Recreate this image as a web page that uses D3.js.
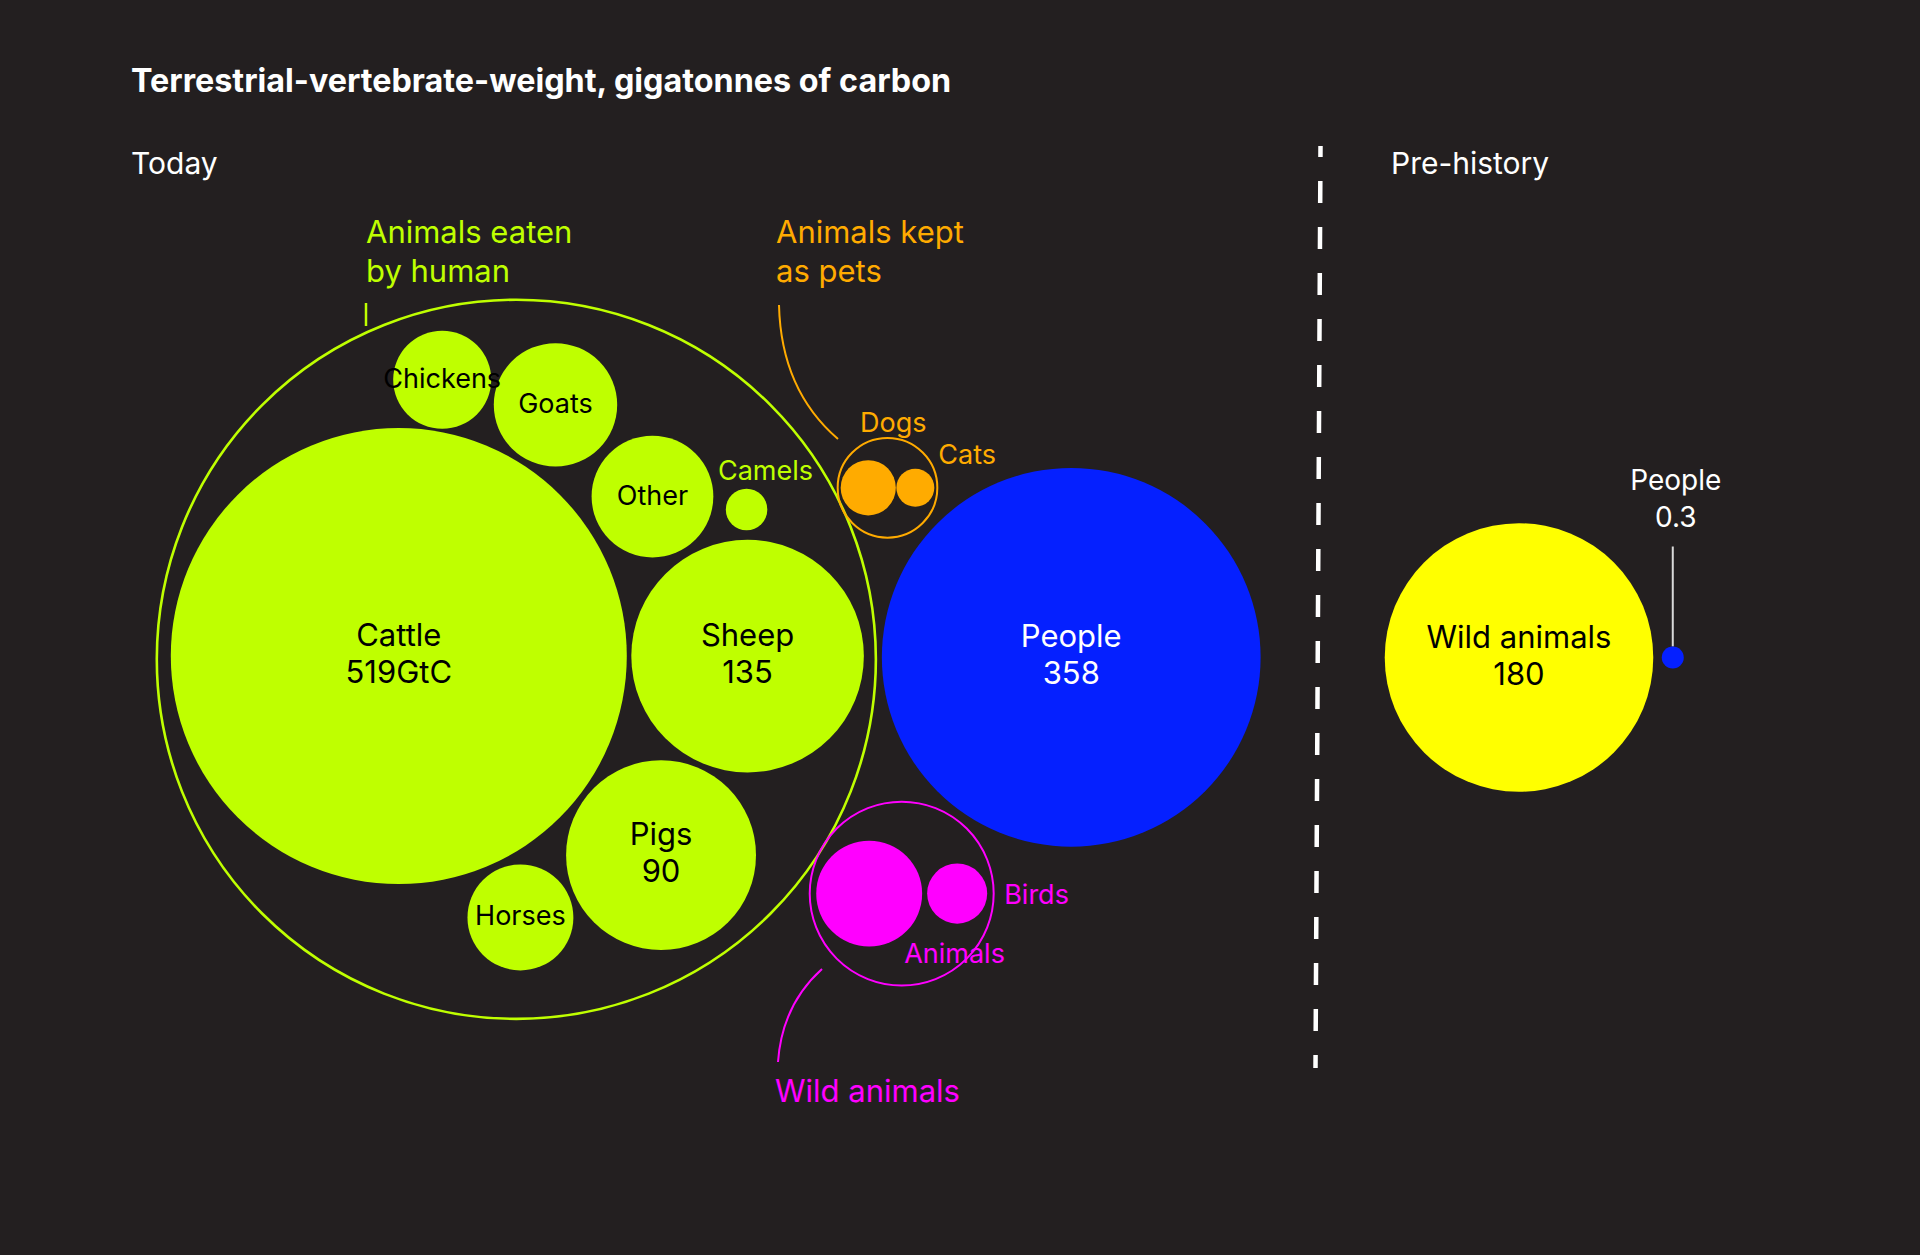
<!DOCTYPE html>
<html><head><meta charset="utf-8">
<script src="https://cdn.jsdelivr.net/npm/d3@7"></script>
<style>
html,body{margin:0;padding:0;background:#231f20;}
svg{display:block;}
text{font-family:Inter,"Liberation Sans",Arial,sans-serif;}
</style></head><body>
<svg id="chart" width="1920" height="1255"></svg>
<script>
// ---------------- data ----------------
const chartTitle = "Terrestrial-vertebrate-weight, gigatonnes of carbon";
const periodLabels = ["Today", "Pre-history"];
const groupLabels = [["Animals eaten", "by human"], ["Animals kept", "as pets"], ["Wild animals"]];

const livestockNames  = ["Cattle", "Sheep", "Pigs", "Horses", "Other", "Goats", "Chickens", "Camels"];
const livestockValues = [519, 135, 90, 28, 37, 38, 24, 4.3];
const livestockValueLabels = ["519GtC", "135", "90", null, null, null, null, null];

const petNames  = ["Dogs", "Cats"];
const petValues = [7.6, 3.6];

const wildNames  = ["Animals", "Birds"];
const wildValues = [28, 9];

const peopleTodayName  = "People";
const peopleTodayValue = 358;
const peopleTodayLabel = "358";

const prehistoryNames  = ["Wild animals", "People"];
const prehistoryValues = [180, 0.3];
const prehistoryLabels = ["180", "0.3"];

// ---------------- styles / layout ----------------
const C = {bg:"#231f20", lime:"#bfff00", orange:"#ffab00", blue:"#0520ff", magenta:"#ff00ff", yellow:"#ffff00", white:"#ffffff"};
const FONT = 'Inter,"Liberation Sans",Arial,sans-serif';

const svg = d3.select("#chart");
svg.append("rect").attr("width",1920).attr("height",1255).attr("fill",C.bg);

const rScale = d3.scaleSqrt().domain([0, 519]).range([0, 228]);
const MIN_R = 11;
const rad = v => Math.max(rScale(v), MIN_R);

function tangent(a, rb, angleDeg, gap) {
  const d = a.r + rb + gap, t = angleDeg * Math.PI / 180;
  return {x: a.x + d * Math.cos(t), y: a.y + d * Math.sin(t)};
}

// placement rules for livestock (anchor circle, angle, gap)
const livestockPlacement = {
  Cattle:   {root: [398.8, 656.1]},
  Sheep:    {anchor: "Cattle", angle: 0,      gap: 4.5},
  Pigs:     {anchor: "Sheep",  angle: 113.5,  gap: 5.8},
  Horses:   {anchor: "Pigs",   angle: 156.1,  gap: 5.9},
  Other:    {anchor: "Sheep",  angle: -120.8, gap: 8.6},
  Goats:    {anchor: "Other",  angle: -136.6, gap: 10.9},
  Chickens: {anchor: "Goats",  angle: -167.5, gap: 5.3},
  Camels:   {anchor: "Sheep",  angle: -90.4,  gap: 9.6}
};

const live = {};
livestockNames.forEach((n, i) => {
  const rr = rad(livestockValues[i]);
  const p = livestockPlacement[n];
  let pos = p.root ? {x: p.root[0], y: p.root[1]} : tangent(live[p.anchor], rr, p.angle, p.gap);
  live[n] = {name: n, value: livestockValues[i], label: livestockValueLabels[i], x: pos.x, y: pos.y, r: rr};
});
const liveList = livestockNames.map(n => live[n]);
const liveEnc = d3.packEnclose(liveList);
const greenOuter = {x: liveEnc.x - 1, y: liveEnc.y + 3.2, r: liveEnc.r + 13};

// people today
const peopleR = rad(peopleTodayValue);
const peoplePos = tangent(greenOuter, peopleR, 0, 6);
const people = {x: peoplePos.x, y: peoplePos.y - 2, r: peopleR};

// sub-group builder
function buildPair(names, values, gap, pad, angle, outerGap) {
  const a = {x: 0, y: 0, r: rad(values[0])};
  const bp = tangent(a, rad(values[1]), 0, gap);
  const b = {x: bp.x, y: bp.y, r: rad(values[1])};
  const enc = d3.packEnclose([a, b]);
  const R = enc.r + pad;
  const c = tangent(greenOuter, R, angle, outerGap);
  const dx = c.x - enc.x, dy = c.y - enc.y;
  return {
    items: [a, b].map((d, i) => ({name: names[i], value: values[i], x: d.x + dx, y: d.y + dy, r: d.r})),
    outer: {x: c.x, y: c.y, r: R}
  };
}
const pets = buildPair(petNames, petValues, 0.5, 3, -24.8, -0.5);
const wild = buildPair(wildNames, wildValues, 5, 6.5, 31.3, -0.5);

// pre-history
const wildPreR = rad(prehistoryValues[0]);
const wildPre = {x: 1519, y: 657.5, r: wildPreR};
const dotR = rad(prehistoryValues[1]);
const dotPos = tangent(wildPre, dotR, 0, 8.5);
const dot = {x: dotPos.x, y: dotPos.y, r: dotR};

// ---------------- draw ----------------
function txt(x, y, s, size, fill, opts = {}) {
  return svg.append("text").attr("x", x).attr("y", y).text(s)
    .attr("font-size", size).attr("fill", fill)
    .attr("font-weight", opts.weight || 400)
    .attr("text-anchor", opts.anchor || "start")
    .attr("font-family", FONT);
}

// title & period labels
txt(131, 92, chartTitle, 32.3, C.white, {weight: 700});
txt(131, 174, periodLabels[0], 30, C.white);
txt(1391, 174, periodLabels[1], 30, C.white);

// divider
svg.append("line").attr("x1", 1320.5).attr("y1", 146).attr("x2", 1315.5).attr("y2", 1068)
  .attr("stroke", C.white).attr("stroke-width", 4.5)
  .attr("stroke-dasharray", "22 24").attr("stroke-dashoffset", 11);

// green group
svg.append("circle").attr("cx", greenOuter.x).attr("cy", greenOuter.y).attr("r", greenOuter.r)
  .attr("fill", "none").attr("stroke", C.lime).attr("stroke-width", 2.6);
svg.selectAll("circle.live").data(liveList).join("circle").attr("class", "live")
  .attr("cx", d => d.x).attr("cy", d => d.y).attr("r", d => d.r).attr("fill", C.lime);

// pets
svg.append("circle").attr("cx", pets.outer.x).attr("cy", pets.outer.y).attr("r", pets.outer.r)
  .attr("fill", "none").attr("stroke", C.orange).attr("stroke-width", 2);
svg.selectAll("circle.pet").data(pets.items).join("circle").attr("class", "pet")
  .attr("cx", d => d.x).attr("cy", d => d.y).attr("r", d => d.r).attr("fill", C.orange);

// wild today
svg.append("circle").attr("cx", wild.outer.x).attr("cy", wild.outer.y).attr("r", wild.outer.r)
  .attr("fill", "none").attr("stroke", C.magenta).attr("stroke-width", 2);
svg.selectAll("circle.wild").data(wild.items).join("circle").attr("class", "wild")
  .attr("cx", d => d.x).attr("cy", d => d.y).attr("r", d => d.r).attr("fill", C.magenta);

// people today
svg.append("circle").attr("cx", people.x).attr("cy", people.y).attr("r", people.r).attr("fill", C.blue);

// pre-history
svg.append("circle").attr("cx", wildPre.x).attr("cy", wildPre.y).attr("r", wildPre.r).attr("fill", C.yellow);
svg.append("line").attr("x1", dot.x).attr("x2", dot.x).attr("y1", dot.y - 111).attr("y2", dot.y - dot.r)
  .attr("stroke", "#d9d9d9").attr("stroke-width", 2);
svg.append("circle").attr("cx", dot.x).attr("cy", dot.y).attr("r", dot.r).attr("fill", C.blue);

// labels inside circles
function twoLine(c, a, b, fill) {
  txt(c.x, c.y - 10, a, 31, fill, {anchor: "middle"});
  txt(c.x, c.y + 27, b, 31, fill, {anchor: "middle"});
}
liveList.forEach(d => {
  if (d.label) twoLine(d, d.name, d.label, "#000");
  else if (d.name !== "Camels") txt(d.x, d.y + 8, d.name, 27, "#000", {anchor: "middle"});
});
twoLine(people, peopleTodayName, peopleTodayLabel, C.white);
twoLine(wildPre, prehistoryNames[0], prehistoryLabels[0], "#000");
txt(dot.x + 3, dot.y - 168, prehistoryNames[1], 28, C.white, {anchor: "middle"});
txt(dot.x + 3, dot.y - 131, prehistoryLabels[1], 28, C.white, {anchor: "middle"});

// small outside labels
const cam = live["Camels"];
txt(cam.x - 28.6, cam.y - 29, "Camels", 27, C.lime);
const dog = pets.items[0], cat = pets.items[1];
txt(dog.x + 25, dog.y - 56, petNames[0], 27, C.orange, {anchor: "middle"});
txt(cat.x + 23, cat.y - 24, petNames[1], 27, C.orange);
const ani = wild.items[0], bird = wild.items[1];
txt(bird.x + bird.r + 17, bird.y + 10, wildNames[1], 27, C.magenta);
txt(ani.x + 35, ani.y + 69, wildNames[0], 27, C.magenta);

// group labels
txt(366, 243, groupLabels[0][0], 31, C.lime);
txt(366, 282, groupLabels[0][1], 31, C.lime);
svg.append("line").attr("x1", 366).attr("x2", 366).attr("y1", 303).attr("y2", 326)
  .attr("stroke", C.lime).attr("stroke-width", 2.5);

txt(776, 243, groupLabels[1][0], 31, C.orange);
txt(776, 282, groupLabels[1][1], 31, C.orange);
svg.append("path").attr("d", "M779,305 Q781,390 838,439")
  .attr("fill", "none").attr("stroke", C.orange).attr("stroke-width", 2);

txt(775, 1102, groupLabels[2][0], 31, C.magenta);
svg.append("path").attr("d", "M822,969 Q782,1005 778,1062")
  .attr("fill", "none").attr("stroke", C.magenta).attr("stroke-width", 2);
</script>
</body></html>
